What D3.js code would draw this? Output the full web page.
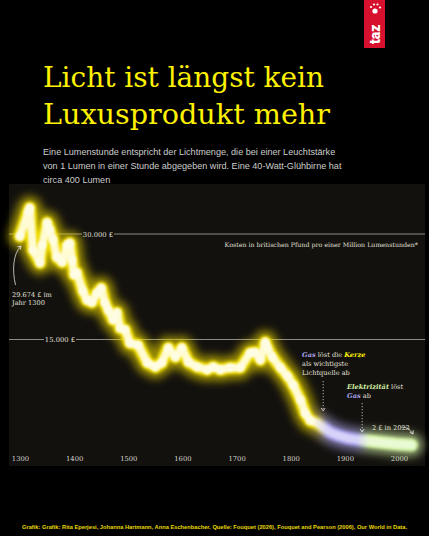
<!DOCTYPE html>
<html>
<head>
<meta charset="utf-8">
<script src="https://cdn.jsdelivr.net/npm/d3@7"></script>
<style>
  html, body { margin: 0; padding: 0; background: #000; }
  svg { display: block; }
</style>
</head>
<body>
<div class="chart"></div>
<script>
// Kosten pro Million Lumenstunden, in britischen Pfund
const years = [1300, 1315, 1318, 1324, 1337, 1341, 1350, 1355, 1361, 1368, 1378, 1387, 1392, 1396,
  1400, 1405, 1416, 1424, 1433, 1442, 1450, 1457, 1463, 1472, 1479, 1485, 1494, 1503, 1518,
  1535, 1550, 1562, 1574, 1587, 1599, 1611, 1627, 1646, 1657, 1670, 1688, 1707, 1725, 1734,
  1744, 1753, 1757, 1766, 1781, 1794, 1805, 1818, 1827, 1836, 1849, 1860, 1873, 1886, 1904,
  1928, 1965, 1995, 2023]
const values = [29674, 33100, 33700, 27700, 25900, 28400, 31600, 30600, 29200, 26700, 26000, 28400, 28700, 26300,
  24200, 24500, 21900, 20600, 20300, 21600, 22300, 20200, 19200, 17800, 18800, 16600, 16400, 14500, 14200,
  11700, 11100, 11700, 13800, 12500, 13800, 11800, 11100, 10700, 11100, 10700, 11000, 11000, 13100, 13200,
  12100, 14600, 13800, 12500, 11000, 9800, 8500, 6400, 4500, 3500, 3100, 2500, 1800, 1400, 1000,
  700, 400, 150, 2]

const xTicks = [1300, 1400, 1500, 1600, 1700, 1800, 1900, 2000]
const gridValues = [15000, 30000]
const gridLabels = ['15.000 £', '30.000 £']

const title = ['Licht ist längst kein', 'Luxusprodukt mehr']
const subtitle = [
  'Eine Lumenstunde entspricht der Lichtmenge, die bei einer Leuchtstärke',
  'von 1 Lumen in einer Stunde abgegeben wird. Eine 40-Watt-Glühbirne hat',
  'circa 400 Lumen'
]
const unitLabel = 'Kosten in britischen Pfund pro einer Million Lumenstunden*'
const footer = 'Grafik: Grafik: Rita Eperjesi, Johanna Hartmann, Anna Eschenbacher. Quelle: Fouquet (2026), Fouquet and Pearson (2006), Our World in Data.'

const width = 429
const height = 536
const yellow = '#fff200'
const lavender = '#a9a3ea'
const green = '#d3f2a4'
const serif = '"DejaVu Serif", serif'

const svg = d3.select('.chart')
  .append('svg')
  .attr('width', width)
  .attr('height', height)

svg.append('rect')
  .attr('width', width)
  .attr('height', height)
  .attr('fill', '#000')

// taz Logo
const logo = svg.append('g')
logo.append('rect')
  .attr('x', 364).attr('y', 0)
  .attr('width', 21).attr('height', 48)
  .attr('fill', '#d7102e')
logo.append('text')
  .attr('transform', 'translate(379.5, 44) rotate(-90)')
  .attr('fill', '#fff')
  .attr('font-family', 'Roboto, sans-serif')
  .attr('font-weight', 900)
  .attr('font-size', 14)
  .text('taz')
logo.append('circle').attr('cx', 375).attr('cy', 11).attr('r', 2.6).attr('fill', '#fff')
;[[371, 7], [374, 4.5], [377.5, 4.5], [380, 7.5]].forEach(p => {
  logo.append('circle').attr('cx', p[0]).attr('cy', p[1]).attr('r', 1.1).attr('fill', '#fff')
})

// Titel
svg.selectAll('.title')
  .data(title)
  .enter()
  .append('text')
  .attr('class', 'title')
  .attr('x', 43)
  .attr('y', (d, i) => 87 + i * 37)
  .attr('fill', yellow)
  .attr('font-family', serif)
  .attr('font-size', 27)
  .attr('textLength', (d, i) => i === 0 ? 281 : 287)
  .attr('lengthAdjust', 'spacingAndGlyphs')
  .text(d => d)

svg.selectAll('.sub')
  .data(subtitle)
  .enter()
  .append('text')
  .attr('class', 'sub')
  .attr('x', 43)
  .attr('y', (d, i) => 155 + i * 13.8)
  .attr('fill', '#cdcdcd')
  .attr('font-family', '"Liberation Sans", Arial, sans-serif')
  .attr('font-size', 9.1)
  .text(d => d)

// Chart panel
svg.append('rect')
  .attr('x', 9).attr('y', 184)
  .attr('width', 416).attr('height', 282)
  .attr('fill', '#13110e')

const xScale = d3.scaleLinear()
  .domain([1300, 2000])
  .range([20, 399])

const yScale = d3.scaleLinear()
  .domain([0, 30000])
  .range([445, 234])

// Gitterlinien
const grid = svg.append('g')
grid.selectAll('line')
  .data(gridValues)
  .enter()
  .append('line')
  .attr('x1', 9).attr('x2', 425)
  .attr('y1', d => yScale(d)).attr('y2', d => yScale(d))
  .attr('stroke', '#8d8b86')
  .attr('stroke-width', 1)

const gridLabelX = [60, 98]
gridValues.forEach((v, i) => {
  grid.append('rect')
    .attr('x', gridLabelX[i] - 16).attr('y', yScale(v) - 4)
    .attr('width', 32).attr('height', 8)
    .attr('fill', '#13110e')
  grid.append('text')
    .attr('x', gridLabelX[i])
    .attr('y', yScale(v) + 2.5)
    .attr('text-anchor', 'middle')
    .attr('fill', '#e2e0da')
    .attr('font-family', serif)
    .attr('font-size', 6.8)
    .text(gridLabels[i])
})

svg.append('text')
  .attr('x', 418).attr('y', 247)
  .attr('text-anchor', 'end')
  .attr('fill', '#e2e0da')
  .attr('font-family', serif)
  .attr('font-size', 6.3)
  .text(unitLabel)

// X-Achse
const xAxis = d3.axisBottom(xScale)
  .tickValues(xTicks)
  .tickSize(0)
  .tickPadding(6)
  .tickFormat(d3.format('d'))

const axisG = svg.append('g')
  .attr('transform', 'translate(0, 450)')
  .call(xAxis)
axisG.select('.domain').remove()
axisG.selectAll('text')
  .attr('fill', '#d8d6d0')
  .attr('font-family', serif)
  .attr('font-size', 6.8)

// Glühende Kurve
const defs = svg.append('defs')
const x0 = xScale(1300)
const x1 = xScale(2023)
const off = yr => (xScale(yr) - x0) / (x1 - x0)

function gradient(id, stops) {
  const g = defs.append('linearGradient')
    .attr('id', id)
    .attr('gradientUnits', 'userSpaceOnUse')
    .attr('x1', x0).attr('x2', x1)
    .attr('y1', 0).attr('y2', 0)
  stops.forEach(s => {
    g.append('stop').attr('offset', off(s[0])).attr('stop-color', s[1])
  })
}
gradient('glow', [[1300, '#f0dc00'], [1840, '#f0dc00'], [1868, lavender], [1922, lavender], [1945, green], [2023, green]])
gradient('core', [[1300, '#fffbd2'], [1840, '#fffbd2'], [1868, '#d6d2f9'], [1922, '#d6d2f9'], [1945, '#e9fad4'], [2023, '#e9fad4']])

const blur = (id, sd) => defs.append('filter')
  .attr('id', id)
  .attr('x', '-20%').attr('y', '-20%')
  .attr('width', '140%').attr('height', '140%')
  .append('feGaussianBlur')
  .attr('stdDeviation', sd)
blur('blurBig', 4.5)
blur('blurMid', 1.8)
blur('blurSmall', 1.1)

const pts = years.map((yr, i) => [yr, values[i]])
const line = d3.line()
  .x(d => xScale(d[0]))
  .y(d => yScale(d[1]))

const curve = svg.append('g')
const layers = [
  { w: 24, stroke: 'url(#glow)', op: 0.6, f: 'blurBig' },
  { w: 13, stroke: 'url(#glow)', op: 1, f: 'blurMid' },
  { w: 8, stroke: 'url(#core)', op: 1, f: 'blurSmall' }
]
layers.forEach(l => {
  curve.append('path')
    .datum(pts)
    .attr('d', line)
    .attr('fill', 'none')
    .attr('stroke', l.stroke)
    .attr('stroke-width', l.w)
    .attr('stroke-linejoin', 'round')
    .attr('stroke-linecap', 'round')
    .attr('opacity', l.op)
    .attr('filter', `url(#${l.f})`)
})
curve.selectAll('circle')
  .data(pts.filter(d => d[0] < 1840))
  .enter()
  .append('circle')
  .attr('cx', d => xScale(d[0]))
  .attr('cy', d => yScale(d[1]))
  .attr('r', 4.5)
  .attr('fill', '#fffde8')
  .attr('opacity', 0.8)
  .attr('filter', 'url(#blurSmall)')

// Anmerkungen
const note = svg.append('g')
  .attr('font-family', serif)
  .attr('font-size', 6.6)
  .attr('fill', '#e2e0da')

note.append('text').attr('x', 12).attr('y', 297).text('29.674 £ im')
note.append('text').attr('x', 12).attr('y', 305).text('Jahr 1300')

const arrowHead = (x, y, ang) => {
  note.append('path')
    .attr('d', 'M-3,-2 L0,0 L-3,2')
    .attr('transform', `translate(${x},${y}) rotate(${ang})`)
    .attr('fill', 'none')
    .attr('stroke', '#e2e0da')
    .attr('stroke-width', 0.8)
}
note.append('path')
  .attr('d', 'M15.5,285 C12,270 13,254 21,246')
  .attr('fill', 'none').attr('stroke', '#e2e0da').attr('stroke-width', 0.8)
arrowHead(21, 246, -45)

const gasNote = note.append('text').attr('x', 302).attr('y', 357)
gasNote.append('tspan').attr('fill', lavender).attr('font-weight', 'bold').attr('font-style', 'italic').text('Gas')
gasNote.append('tspan').text(' löst die ')
gasNote.append('tspan').attr('fill', yellow).attr('font-weight', 'bold').attr('font-style', 'italic').text('Kerze')
note.append('text').attr('x', 302).attr('y', 366).text('als wichtigste')
note.append('text').attr('x', 302).attr('y', 375).text('Lichtquelle ab')

const elNote = note.append('text').attr('x', 347).attr('y', 389)
elNote.append('tspan').attr('fill', green).attr('font-weight', 'bold').attr('font-style', 'italic').text('Elektrizität')
elNote.append('tspan').text(' löst')
const elNote2 = note.append('text').attr('x', 347).attr('y', 398)
elNote2.append('tspan').attr('fill', lavender).attr('font-weight', 'bold').attr('font-style', 'italic').text('Gas')
elNote2.append('tspan').text(' ab')

const dotted = (xv, ya, yb) => {
  note.append('line')
    .attr('x1', xv).attr('x2', xv)
    .attr('y1', ya).attr('y2', yb)
    .attr('stroke', '#e2e0da').attr('stroke-width', 0.8)
    .attr('stroke-dasharray', '1.2,1.8')
  arrowHead(xv, yb, 90)
}
dotted(xScale(1860), 381, 411)
dotted(xScale(1932), 403, 432)

note.append('text').attr('x', 372).attr('y', 430).text('2 £ in 2023')
note.append('path')
  .attr('d', 'M401,427 Q409,427 413,434')
  .attr('fill', 'none').attr('stroke', '#e2e0da').attr('stroke-width', 0.8)
arrowHead(413, 434, 60)

// Quelle
svg.append('text')
  .attr('x', 22).attr('y', 529)
  .attr('fill', '#e8d900')
  .attr('font-family', '"Liberation Sans", Arial, sans-serif')
  .attr('font-weight', 'bold')
  .attr('font-size', 5.6)
  .attr('textLength', 385)
  .attr('lengthAdjust', 'spacingAndGlyphs')
  .text(footer)
</script>
</body>
</html>
